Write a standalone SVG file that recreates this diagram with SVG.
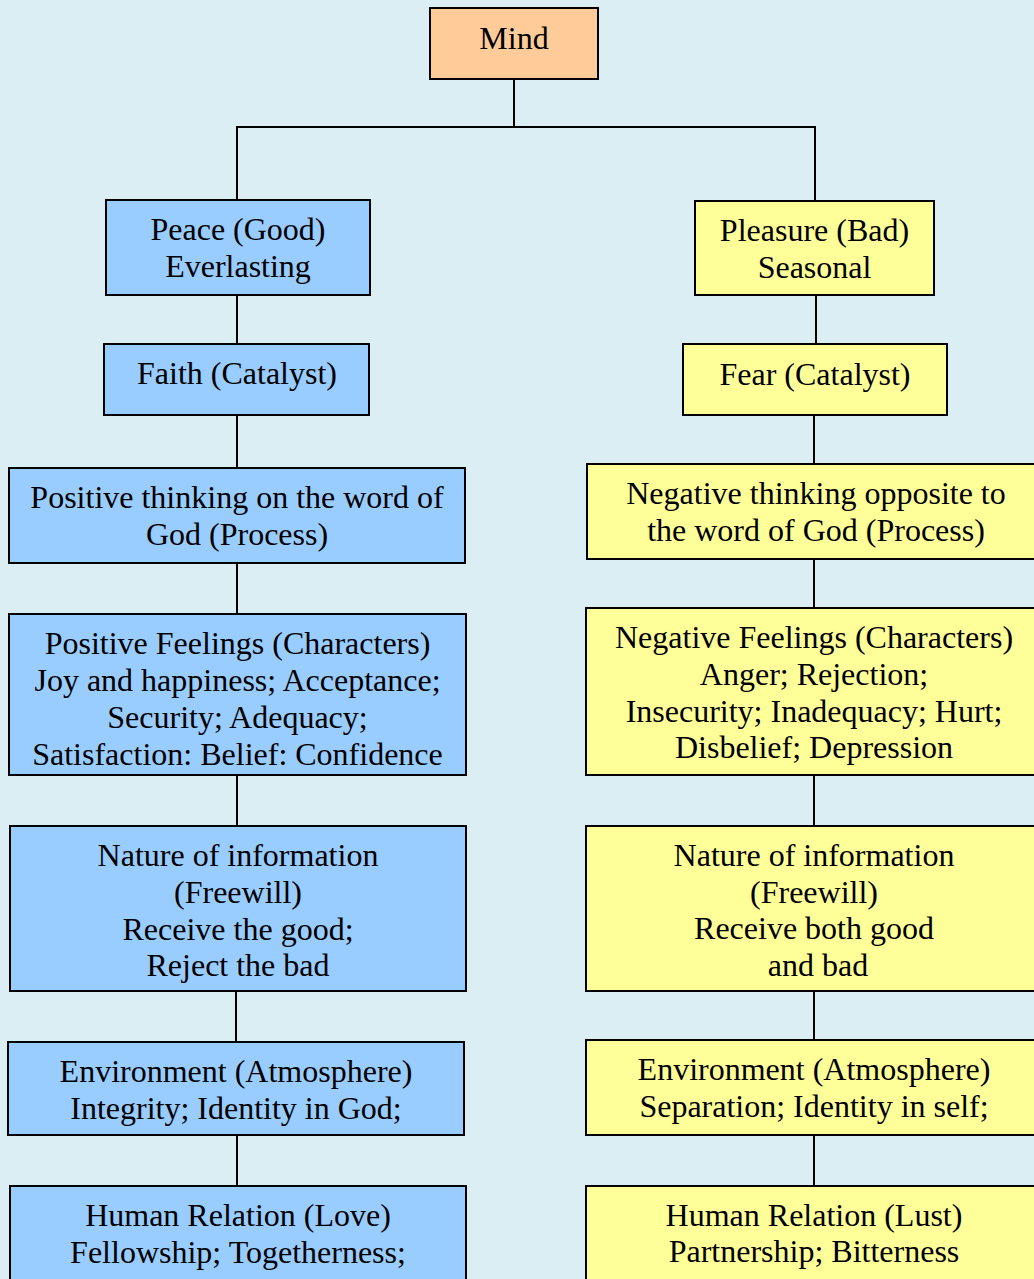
<svg xmlns="http://www.w3.org/2000/svg" width="1034" height="1279" viewBox="0 0 1034 1279">
<style>
.bg{fill:#DBEEF4}
rect.n{stroke:#000;stroke-width:2}
.good{fill:#99CCFF}
.bad{fill:#FFFF99}
.root{fill:#FFCC99}
text{font-family:"Liberation Serif","Times New Roman",serif;font-size:32px;fill:#000;text-anchor:middle}
.c line{stroke:#000;stroke-width:2;fill:none}
</style>
<rect class="bg" x="0" y="0" width="1034" height="1279"/>
<g class="c" id="connectors">
<line x1="514" y1="79" x2="514" y2="127"/>
<line x1="237" y1="127" x2="816" y2="127"/>
<line x1="237" y1="126" x2="237" y2="200"/>
<line x1="815" y1="126" x2="815" y2="201"/>
<line x1="237" y1="295" x2="237" y2="344"/>
<line x1="237" y1="415" x2="237" y2="468"/>
<line x1="237" y1="563" x2="237" y2="614"/>
<line x1="237" y1="775" x2="237" y2="826"/>
<line x1="236" y1="991" x2="236" y2="1042"/>
<line x1="237" y1="1135" x2="237" y2="1186"/>
<line x1="816" y1="295" x2="816" y2="344"/>
<line x1="814" y1="415" x2="814" y2="464"/>
<line x1="814" y1="559" x2="814" y2="608"/>
<line x1="814" y1="775" x2="814" y2="826"/>
<line x1="814" y1="991" x2="814" y2="1040"/>
<line x1="814" y1="1135" x2="814" y2="1186"/>
</g>
<g id="mind"><rect class="n root" x="430" y="8" width="168" height="71"/><text x="514" y="49">Mind</text></g>
<g id="peace"><rect class="n good" x="106" y="200" width="264" height="95"/><text x="238" y="240">Peace (Good)</text><text x="238" y="277">Everlasting</text></g>
<g id="faith"><rect class="n good" x="104" y="344" width="265" height="71"/><text x="237" y="384">Faith (Catalyst)</text></g>
<g id="posthink"><rect class="n good" x="9" y="468" width="456" height="95"/><text x="237" y="508">Positive thinking on the word of</text><text x="237" y="545">God (Process)</text></g>
<g id="posfeel"><rect class="n good" x="9" y="614" width="457" height="161"/><text x="237.5" y="654">Positive Feelings (Characters)</text><text x="237.5" y="691">Joy and happiness; Acceptance;</text><text x="237.5" y="728">Security; Adequacy;</text><text x="237.5" y="765">Satisfaction: Belief: Confidence</text></g>
<g id="posnature"><rect class="n good" x="10" y="826" width="456" height="165"/><text x="238" y="866">Nature of information</text><text x="238" y="903">(Freewill)</text><text x="238" y="940">Receive the good;</text><text x="238" y="976">Reject the bad</text></g>
<g id="posenv"><rect class="n good" x="8" y="1042" width="456" height="93"/><text x="236" y="1082">Environment (Atmosphere)</text><text x="236" y="1119">Integrity; Identity in God;</text></g>
<g id="poshuman"><rect class="n good" x="10" y="1186" width="456" height="120"/><text x="238" y="1226">Human Relation (Love)</text><text x="238" y="1263">Fellowship; Togetherness;</text></g>
<g id="pleasure"><rect class="n bad" x="695" y="201" width="239" height="94"/><text x="814.5" y="241">Pleasure (Bad)</text><text x="814.5" y="278">Seasonal</text></g>
<g id="fear"><rect class="n bad" x="683" y="344" width="264" height="71"/><text x="815" y="385">Fear (Catalyst)</text></g>
<g id="negthink"><rect class="n bad" x="587" y="464" width="458" height="95"/><text x="816" y="504">Negative thinking opposite to</text><text x="816" y="541">the word of God (Process)</text></g>
<g id="negfeel"><rect class="n bad" x="586" y="608" width="458" height="167"/><text x="814" y="648">Negative Feelings (Characters)</text><text x="814" y="685">Anger; Rejection;</text><text x="814" y="722">Insecurity; Inadequacy; Hurt;</text><text x="814" y="758">Disbelief; Depression</text></g>
<g id="negnature"><rect class="n bad" x="586" y="826" width="458" height="165"/><text x="814" y="866">Nature of information</text><text x="814" y="903">(Freewill)</text><text x="814" y="939">Receive both good</text><text x="818" y="976">and bad</text></g>
<g id="negenv"><rect class="n bad" x="586" y="1040" width="458" height="95"/><text x="814" y="1080">Environment (Atmosphere)</text><text x="814" y="1117">Separation; Identity in self;</text></g>
<g id="neghuman"><rect class="n bad" x="586" y="1186" width="458" height="120"/><text x="814" y="1226">Human Relation (Lust)</text><text x="814" y="1262">Partnership; Bitterness</text></g>
</svg>
